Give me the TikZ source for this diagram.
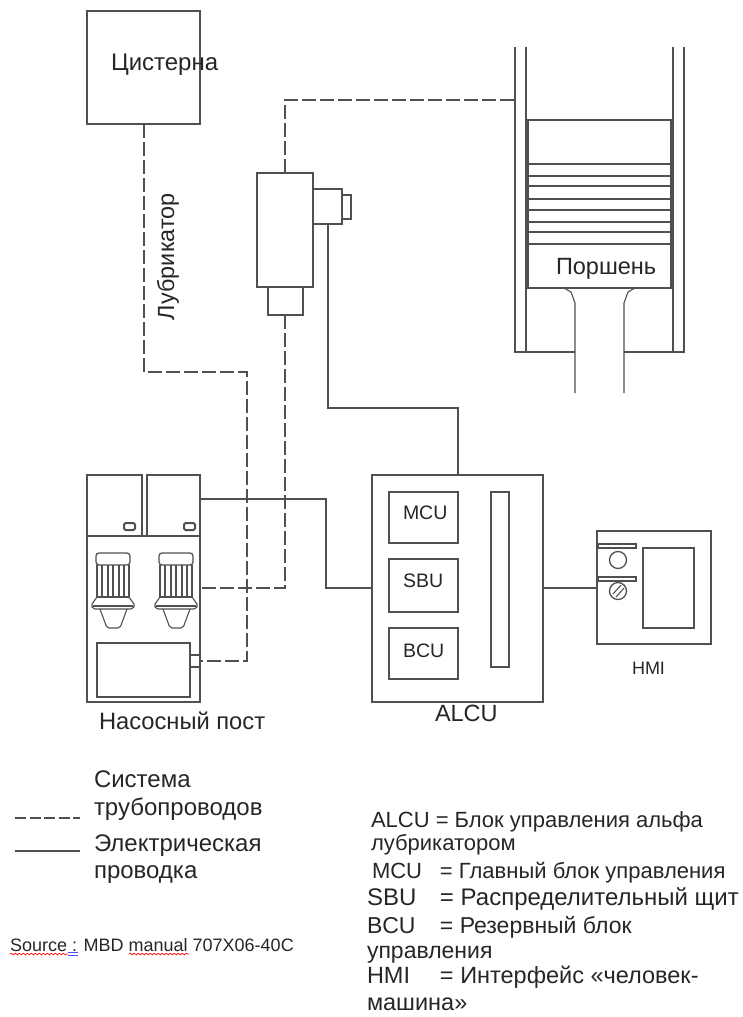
\documentclass[tikz,border=0pt]{standalone}
\usepackage{fontspec}
\setmainfont{Liberation Sans}
\usetikzlibrary{decorations.pathmorphing}
\definecolor{ln}{HTML}{505050}
\definecolor{tx}{HTML}{262626}
\newcommand{\fsz}[1]{\fontsize{#1}{#1}\selectfont}
\tikzset{
  box/.style={draw=ln,line width=1.1pt,fill=none,rectangle,inner sep=0pt,outer sep=0pt,anchor=north west},
  solidw/.style={draw=ln,line width=1.1pt},
  pipe/.style={draw=ln,line width=1.1pt,dash pattern=on 14pt off 4pt},
  part/.style={draw=ln,line width=1.1pt},
  lbl/.style={text=tx,inner sep=0pt,outer sep=0pt,anchor=base west},
  squig/.style={draw=#1,line width=.7pt,decorate,decoration={snake,amplitude=.8pt,segment length=4pt}},
}
\newcommand{\bx}[5]{\node[box,minimum width=#4pt-#2pt,minimum height=#5pt-#3pt] (#1) at (#2,#3) {};}
\newcommand{\pumpmotor}[1]{%
\begin{scope}[xshift=#1pt]
  \draw[part,rounded corners=3pt,line width=1.3pt] (96,565) -- (96,553) -- (130,553) -- (130,565) -- cycle;
  \draw[part,line width=1.3pt] (97,565) -- (97,597) -- (129,597) -- (129,565);
  \foreach \fx in {102,108,113,119,124} \draw[part,line width=1.2pt] (\fx,565) -- (\fx,597);
  \draw[part] (97,597) -- (92,604) -- (92,607) -- (95,609) -- (131,609) -- (134,607) -- (134,604) -- (129,597);
  \draw[part,line width=2pt] (93,605.5) -- (133,605.5);
  \draw[part,rounded corners=2pt] (100,609) -- (107,628) -- (120,628) -- (127,609);
\end{scope}}
\begin{document}
\begin{tikzpicture}[x=1pt,y=-1pt]
\useasboundingbox (0,0) rectangle (742,1017);
% tank
\bx{tank}{87}{11}{200}{124}
\node[lbl,font=\fsz{24}] (tanklbl) at (111,70) {Цистерна};
\node[lbl,font=\fsz{23.4},rotate=90] (lublbl) at (174,320) {Лубрикатор};
% valve
\bx{valve}{257}{173}{313}{287}
\bx{valvelow}{268}{287}{303}{315}
\bx{valveside}{313}{189}{342}{224}
\bx{valvecap}{342}{195}{351}{219}
% piston cylinder
\draw[part] (515,47) -- (515,352) (526,47) -- (526,352) (673,47) -- (673,352) (684,47) -- (684,352);
\coordinate (wallin) at (515,100);
\bx{piston}{528}{120}{671}{288}
\bx{ringa}{526}{164}{673}{176}
\bx{ringb}{526}{186}{673}{199}
\bx{ringc}{526}{210}{673}{222}
\bx{ringd}{526}{232}{673}{244}
\draw[part] (514,352) -- (575,352) (624,352) -- (685,352);
\draw[part] (564,288) -- (571,292) -- (575,303) -- (575,393);
\draw[part] (635,288) -- (628,292) -- (624,303) -- (624,393);
\node[lbl,font=\fsz{23.5}] (pistonlbl) at (556,274) {Поршень};
% pump station
\bx{pumpbody}{87}{536}{200}{702}
\bx{compa}{87}{475}{142}{536}
\bx{compb}{147}{475}{200}{536}
\draw[part,rounded corners=1.5pt,line width=2pt] (124,523) rectangle (135,530);
\draw[part,rounded corners=1.5pt,line width=2pt] (184,523) rectangle (195,530);
\pumpmotor{0}
\pumpmotor{63}
\bx{pumptank}{97}{643}{190}{697}
\draw[part] (190,655) -- (200,655) (190,667) -- (200,667);
\node[lbl,font=\fsz{23.7}] (pumplbl) at (99,729) {Насосный пост};
% ALCU
\bx{alcu}{372}{475}{543}{702}
\bx{mcu}{389}{492}{458}{543}
\bx{sbu}{389}{559}{458}{612}
\bx{bcu}{389}{628}{458}{679}
\bx{bar}{491}{492}{509}{667}
\node[lbl,font=\fsz{19.5}] (mculbl) at (403,519) {MCU};
\node[lbl,font=\fsz{19.5}] (sbulbl) at (403,587) {SBU};
\node[lbl,font=\fsz{19.5}] (bculbl) at (403,657) {BCU};
\node[lbl,font=\fsz{23.5}] (alculbl) at (435,721) {ALCU};
% HMI
\bx{hmi}{597}{531}{711}{644}
\bx{screen}{643}{548}{694}{628}
\bx{knobbara}{598}{544}{636}{548}
\bx{knobbarb}{598}{577}{636}{581}
\draw[part,line width=1.3pt] (618,560) circle (8.5);
\draw[part,line width=1.3pt] (618,591) circle (8.5);
\draw[part] (613,594) -- (621,585) (616,597) -- (624,588);
\node[lbl,font=\fsz{18}] (hmilbl) at (632,674) {HMI};
% connectors
\coordinate (a1) at (144,372);
\coordinate (a2) at (247,372);
\coordinate (a3) at (247,661);
\coordinate (pumpa) at (200,661);
\coordinate (b1) at (285,100);
\coordinate (b2) at (285,173);
\coordinate (c1) at (285,315);
\coordinate (c2) at (285,588);
\coordinate (pumpb) at (200,588);
\coordinate (d0) at (328,224);
\coordinate (d1) at (328,408);
\coordinate (d2) at (458,408);
\coordinate (d3) at (458,475);
\coordinate (e0) at (200,499);
\coordinate (e1) at (326,499);
\coordinate (e2) at (326,588);
\coordinate (e3) at (372,588);
\coordinate (f0) at (543,588);
\coordinate (f1) at (597,588);
\draw[pipe] (144,124) -- (a1) -- (a2) -- (a3) -- (pumpa);
\draw[pipe] (b2) -- (b1) -- (wallin);
\draw[pipe] (c1) -- (c2) -- (pumpb);
\draw[solidw] (d0) -- (d1) -- (d2) -- (d3);
\draw[solidw] (e0) -- (e1) -- (e2) -- (e3);
\draw[solidw] (f0) -- (f1);
% legend
\coordinate (la) at (15,818); \coordinate (lb) at (80,818);
\coordinate (lc) at (15,851); \coordinate (ld) at (80,851);
\draw[draw=ln,line width=1.1pt,dash pattern=on 11pt off 3.5pt] (la) -- (lb);
\draw[solidw] (lc) -- (ld);
\node[lbl,font=\fsz{24}] (lega) at (94,787) {Система};
\node[lbl,font=\fsz{24}] (legb) at (94,815) {трубопроводов};
\node[lbl,font=\fsz{24}] (legc) at (94,851) {Электрическая};
\node[lbl,font=\fsz{24}] (legd) at (94,878) {проводка};
\node[lbl,font=\fsz{18}] (src) at (10,951) {Source : MBD manual 707X06-40C};
\coordinate (sa) at (10,954); \coordinate (sb) at (68,954);
\coordinate (sc) at (129,954); \coordinate (sd) at (189,954);
\coordinate (se) at (68,952.5); \coordinate (sf) at (78,952.5);
\coordinate (sg) at (68,955); \coordinate (sh) at (78,955);
\draw[squig=red] (sa) -- (sb);
\draw[squig=red] (sc) -- (sd);
\draw[blue!70!white,line width=.7pt] (se) -- (sf) (sg) -- (sh);
% notes
\node[lbl,font=\fsz{22}] (na) at (371,827) {ALCU = Блок управления альфа};
\node[lbl,font=\fsz{22}] (nb) at (371,850) {лубрикатором};
\node[lbl,font=\fsz{22}] (nc) at (372,878) {\makebox[68pt][l]{MCU}= Главный блок управления};
\node[lbl,font=\fsz{24}] (nd) at (367,905) {\makebox[73pt][l]{SBU}= Распределительный щит};
\node[lbl,font=\fsz{23}] (ne) at (367,933) {\makebox[73pt][l]{BCU}= Резервный блок};
\node[lbl,font=\fsz{23}] (nf) at (367,958) {управления};
\node[lbl,font=\fsz{23.5}] (ng) at (367,983) {\makebox[73pt][l]{HMI}= Интерфейс «человек-};
\node[lbl,font=\fsz{23.5}] (nh) at (367,1010) {машина»};
\end{tikzpicture}
\end{document}
